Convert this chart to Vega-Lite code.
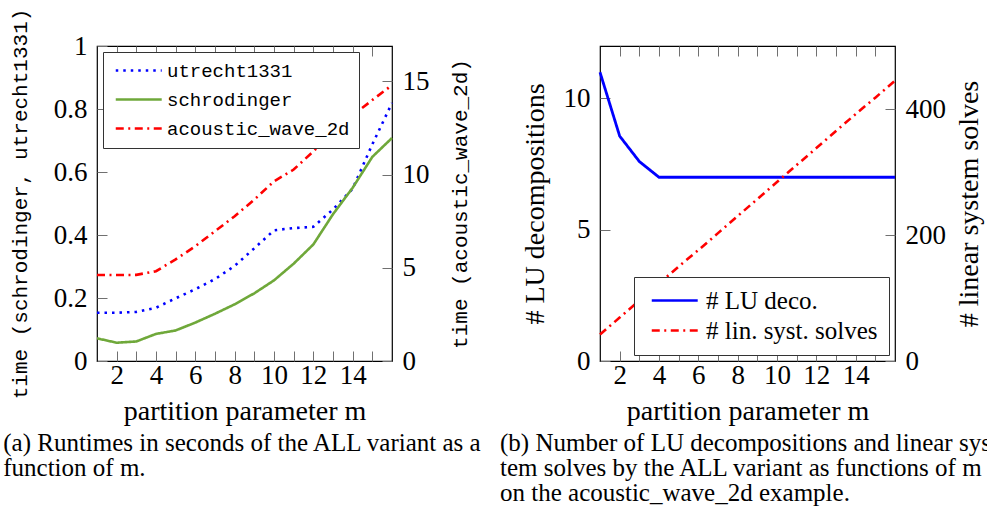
{
  "$schema": "https://vega.github.io/schema/vega-lite/v6.json",
  "padding": {"left": 2, "top": 7, "right": 0, "bottom": 0},
  "background": "#ffffff",
  "spacing": 15,
  "resolve": {"scale": {"color": "independent", "strokeDash": "independent"}, "legend": {"color": "independent", "strokeDash": "independent"}},
  "config": {
    "view": {"stroke": "#000000", "strokeWidth": 1.2},
    "axis": {"domain": false, "grid": false, "tickColor": "#707070", "tickWidth": 1, "tickSize": -10, "labelPadding": 20, "labelFont": "Liberation Serif", "labelFontSize": 27, "labelColor": "#000000", "titleFont": "Liberation Serif", "titleFontSize": 28, "titleFontWeight": "normal", "titleColor": "#000000", "labelOverlap": false, "labelFlush": false},
    "legend": {"title": null, "symbolType": "M-1,0H7", "symbolStrokeWidth": 2.6, "symbolSize": 132, "strokeColor": "#333333", "fillColor": "#ffffff", "labelColor": "#000000", "labelOffset": 36, "labelLimit": 400},
    "title": {"font": "Liberation Serif", "fontSize": 25, "fontWeight": "normal", "color": "#000000"}
  },
  "datasets": {
    "a": [
      {"m": 1, "series": "utrecht1331", "time": 0.153}, {"m": 2, "series": "utrecht1331", "time": 0.153}, {"m": 3, "series": "utrecht1331", "time": 0.156}, {"m": 4, "series": "utrecht1331", "time": 0.169},
      {"m": 5, "series": "utrecht1331", "time": 0.199}, {"m": 6, "series": "utrecht1331", "time": 0.228}, {"m": 7, "series": "utrecht1331", "time": 0.26}, {"m": 8, "series": "utrecht1331", "time": 0.302},
      {"m": 9, "series": "utrecht1331", "time": 0.358}, {"m": 10, "series": "utrecht1331", "time": 0.415}, {"m": 11, "series": "utrecht1331", "time": 0.422}, {"m": 12, "series": "utrecht1331", "time": 0.426},
      {"m": 13, "series": "utrecht1331", "time": 0.481}, {"m": 14, "series": "utrecht1331", "time": 0.547}, {"m": 15, "series": "utrecht1331", "time": 0.688}, {"m": 16, "series": "utrecht1331", "time": 0.819},
      {"m": 1, "series": "schrodinger", "time": 0.072}, {"m": 2, "series": "schrodinger", "time": 0.058}, {"m": 3, "series": "schrodinger", "time": 0.062}, {"m": 4, "series": "schrodinger", "time": 0.086},
      {"m": 5, "series": "schrodinger", "time": 0.097}, {"m": 6, "series": "schrodinger", "time": 0.122}, {"m": 7, "series": "schrodinger", "time": 0.15}, {"m": 8, "series": "schrodinger", "time": 0.18},
      {"m": 9, "series": "schrodinger", "time": 0.215}, {"m": 10, "series": "schrodinger", "time": 0.256}, {"m": 11, "series": "schrodinger", "time": 0.309}, {"m": 12, "series": "schrodinger", "time": 0.37},
      {"m": 13, "series": "schrodinger", "time": 0.466}, {"m": 14, "series": "schrodinger", "time": 0.55}, {"m": 15, "series": "schrodinger", "time": 0.648}, {"m": 16, "series": "schrodinger", "time": 0.708},
      {"m": 1, "series": "acoustic_wave_2d", "time": 4.61}, {"m": 2, "series": "acoustic_wave_2d", "time": 4.61}, {"m": 3, "series": "acoustic_wave_2d", "time": 4.62}, {"m": 4, "series": "acoustic_wave_2d", "time": 4.82},
      {"m": 5, "series": "acoustic_wave_2d", "time": 5.45}, {"m": 6, "series": "acoustic_wave_2d", "time": 6.16}, {"m": 7, "series": "acoustic_wave_2d", "time": 6.96}, {"m": 8, "series": "acoustic_wave_2d", "time": 7.77},
      {"m": 9, "series": "acoustic_wave_2d", "time": 8.66}, {"m": 10, "series": "acoustic_wave_2d", "time": 9.64}, {"m": 11, "series": "acoustic_wave_2d", "time": 10.27}, {"m": 12, "series": "acoustic_wave_2d", "time": 11.25},
      {"m": 13, "series": "acoustic_wave_2d", "time": 12.23}, {"m": 14, "series": "acoustic_wave_2d", "time": 13.18}, {"m": 15, "series": "acoustic_wave_2d", "time": 14.0}, {"m": 16, "series": "acoustic_wave_2d", "time": 14.8}
    ],
    "b": [
      {"m": 1, "kind": "# LU deco.", "count": 11}, {"m": 2, "kind": "# LU deco.", "count": 8.57}, {"m": 3, "kind": "# LU deco.", "count": 7.6}, {"m": 4, "kind": "# LU deco.", "count": 7},
      {"m": 5, "kind": "# LU deco.", "count": 7}, {"m": 6, "kind": "# LU deco.", "count": 7}, {"m": 7, "kind": "# LU deco.", "count": 7}, {"m": 8, "kind": "# LU deco.", "count": 7},
      {"m": 9, "kind": "# LU deco.", "count": 7}, {"m": 10, "kind": "# LU deco.", "count": 7}, {"m": 11, "kind": "# LU deco.", "count": 7}, {"m": 12, "kind": "# LU deco.", "count": 7},
      {"m": 13, "kind": "# LU deco.", "count": 7}, {"m": 14, "kind": "# LU deco.", "count": 7}, {"m": 15, "kind": "# LU deco.", "count": 7}, {"m": 16, "kind": "# LU deco.", "count": 7},
      {"m": 1, "kind": "# lin. syst. solves", "count": 42}, {"m": 2, "kind": "# lin. syst. solves", "count": 69}, {"m": 3, "kind": "# lin. syst. solves", "count": 96}, {"m": 4, "kind": "# lin. syst. solves", "count": 123},
      {"m": 5, "kind": "# lin. syst. solves", "count": 150}, {"m": 6, "kind": "# lin. syst. solves", "count": 176}, {"m": 7, "kind": "# lin. syst. solves", "count": 203}, {"m": 8, "kind": "# lin. syst. solves", "count": 230},
      {"m": 9, "kind": "# lin. syst. solves", "count": 257}, {"m": 10, "kind": "# lin. syst. solves", "count": 284}, {"m": 11, "kind": "# lin. syst. solves", "count": 311}, {"m": 12, "kind": "# lin. syst. solves", "count": 338},
      {"m": 13, "kind": "# lin. syst. solves", "count": 365}, {"m": 14, "kind": "# lin. syst. solves", "count": 392}, {"m": 15, "kind": "# lin. syst. solves", "count": 418}, {"m": 16, "kind": "# lin. syst. solves", "count": 445}
    ]
  },
  "hconcat": [
    {
      "width": 295,
      "height": 315,
      "title": {"text": ["(a) Runtimes in seconds of the ALL variant as a", "function of m."], "orient": "bottom", "anchor": "start", "frame": "bounds", "lineHeight": 25, "offset": 6, "dx": -6},
      "data": {"name": "a"},
      "layer": [
        {
          "transform": [{"filter": "datum.series != 'acoustic_wave_2d'"}],
          "mark": {"type": "line", "strokeWidth": 2.6},
          "encoding": {
            "x": {"field": "m", "type": "quantitative", "scale": {"domain": [1, 16], "nice": false, "zero": false},
                  "axis": {"orient": "bottom", "values": [2, 3, 4, 5, 6, 7, 8, 9, 10, 11, 12, 13, 14, 15], "labelExpr": "datum.value % 2 === 0 ? datum.label : ''", "labelPadding": 11, "title": "partition parameter m", "titlePadding": 9}},
            "y": {"field": "time", "type": "quantitative", "scale": {"domain": [0, 1], "nice": false},
                  "axis": {"orient": "left", "values": [0, 0.2, 0.4, 0.6, 0.8, 1], "format": "~g", "title": "time (schrodinger, utrecht1331)", "titleFont": "Liberation Mono", "titleFontSize": 21, "titlePadding": 23}},
            "color": {"field": "series", "type": "nominal", "scale": {"domain": ["utrecht1331", "schrodinger", "acoustic_wave_2d"], "range": ["#0000ff", "#6fa83a", "#ff0000"]},
                      "legend": {"orient": "top-left", "offset": 6, "padding": 9, "rowPadding": 9, "labelFont": "Liberation Mono", "labelFontSize": 19}},
            "strokeDash": {"field": "series", "type": "nominal", "scale": {"domain": ["utrecht1331", "schrodinger", "acoustic_wave_2d"], "range": [[2.5, 5], [1, 0], [8, 4.5, 2, 4.5]]},
                      "legend": {"orient": "top-left", "offset": 6, "padding": 9, "rowPadding": 9, "labelFont": "Liberation Mono", "labelFontSize": 19}}
          }
        },
        {
          "transform": [{"filter": "datum.series == 'acoustic_wave_2d'"}],
          "mark": {"type": "line", "strokeWidth": 2.6},
          "encoding": {
            "x": {"field": "m", "type": "quantitative", "scale": {"domain": [1, 16], "nice": false, "zero": false},
                  "axis": {"orient": "top", "values": [2, 3, 4, 5, 6, 7, 8, 9, 10, 11, 12, 13, 14, 15], "labels": false, "title": null}},
            "y": {"field": "time", "type": "quantitative", "scale": {"domain": [0, 16.9], "nice": false},
                  "axis": {"orient": "right", "values": [0, 5, 10, 15], "title": "time (acoustic_wave_2d)", "titleFont": "Liberation Mono", "titleFontSize": 21, "titleAngle": 270, "titleBaseline": "top", "titlePadding": 20}},
            "color": {"field": "series", "type": "nominal", "scale": {"domain": ["utrecht1331", "schrodinger", "acoustic_wave_2d"], "range": ["#0000ff", "#6fa83a", "#ff0000"]},
                      "legend": {"orient": "top-left", "offset": 6, "padding": 9, "rowPadding": 9, "labelFont": "Liberation Mono", "labelFontSize": 19}},
            "strokeDash": {"field": "series", "type": "nominal", "scale": {"domain": ["utrecht1331", "schrodinger", "acoustic_wave_2d"], "range": [[2.5, 5], [1, 0], [8, 4.5, 2, 4.5]]},
                      "legend": {"orient": "top-left", "offset": 6, "padding": 9, "rowPadding": 9, "labelFont": "Liberation Mono", "labelFontSize": 19}}
          }
        }
      ],
      "resolve": {"scale": {"y": "independent"}, "axis": {"x": "independent"}}
    },
    {
      "width": 295,
      "height": 315,
      "title": {"text": ["(b) Number of LU decompositions and linear sys-", "tem solves by the ALL variant as functions of m", "on the acoustic_wave_2d example."], "orient": "bottom", "anchor": "start", "frame": "bounds", "lineHeight": 25, "offset": 6, "dx": -21},
      "data": {"name": "b"},
      "layer": [
        {
          "transform": [{"filter": "datum.kind == '# LU deco.'"}],
          "mark": {"type": "line", "strokeWidth": 2.8},
          "encoding": {
            "x": {"field": "m", "type": "quantitative", "scale": {"domain": [1, 16], "nice": false, "zero": false},
                  "axis": {"orient": "bottom", "values": [2, 3, 4, 5, 6, 7, 8, 9, 10, 11, 12, 13, 14, 15], "labelExpr": "datum.value % 2 === 0 ? datum.label : ''", "labelPadding": 11, "title": "partition parameter m", "titlePadding": 9}},
            "y": {"field": "count", "type": "quantitative", "scale": {"domain": [0, 12], "nice": false},
                  "axis": {"orient": "left", "values": [0, 5, 10], "title": "# LU decompositions", "titlePadding": 14}},
            "color": {"field": "kind", "type": "nominal", "scale": {"domain": ["# LU deco.", "# lin. syst. solves"], "range": ["#0000ff", "#ff0000"]},
                      "legend": {"orient": "bottom-right", "offset": 6, "padding": 11, "rowPadding": 4, "labelFont": "Liberation Serif", "labelFontSize": 25}},
            "strokeDash": {"field": "kind", "type": "nominal", "scale": {"domain": ["# LU deco.", "# lin. syst. solves"], "range": [[1, 0], [8, 4.5, 2, 4.5]]},
                      "legend": {"orient": "bottom-right", "offset": 6, "padding": 11, "rowPadding": 4, "labelFont": "Liberation Serif", "labelFontSize": 25}}
          }
        },
        {
          "transform": [{"filter": "datum.kind == '# lin. syst. solves'"}],
          "mark": {"type": "line", "strokeWidth": 2.6},
          "encoding": {
            "x": {"field": "m", "type": "quantitative", "scale": {"domain": [1, 16], "nice": false, "zero": false},
                  "axis": {"orient": "top", "values": [2, 3, 4, 5, 6, 7, 8, 9, 10, 11, 12, 13, 14, 15], "labels": false, "title": null}},
            "y": {"field": "count", "type": "quantitative", "scale": {"domain": [0, 500], "nice": false},
                  "axis": {"orient": "right", "values": [0, 200, 400], "title": "# linear system solves", "titleAngle": 270, "titleBaseline": "top", "titlePadding": 10}},
            "color": {"field": "kind", "type": "nominal", "scale": {"domain": ["# LU deco.", "# lin. syst. solves"], "range": ["#0000ff", "#ff0000"]},
                      "legend": {"orient": "bottom-right", "offset": 6, "padding": 11, "rowPadding": 4, "labelFont": "Liberation Serif", "labelFontSize": 25}},
            "strokeDash": {"field": "kind", "type": "nominal", "scale": {"domain": ["# LU deco.", "# lin. syst. solves"], "range": [[1, 0], [8, 4.5, 2, 4.5]]},
                      "legend": {"orient": "bottom-right", "offset": 6, "padding": 11, "rowPadding": 4, "labelFont": "Liberation Serif", "labelFontSize": 25}}
          }
        }
      ],
      "resolve": {"scale": {"y": "independent"}, "axis": {"x": "independent"}}
    }
  ]
}
